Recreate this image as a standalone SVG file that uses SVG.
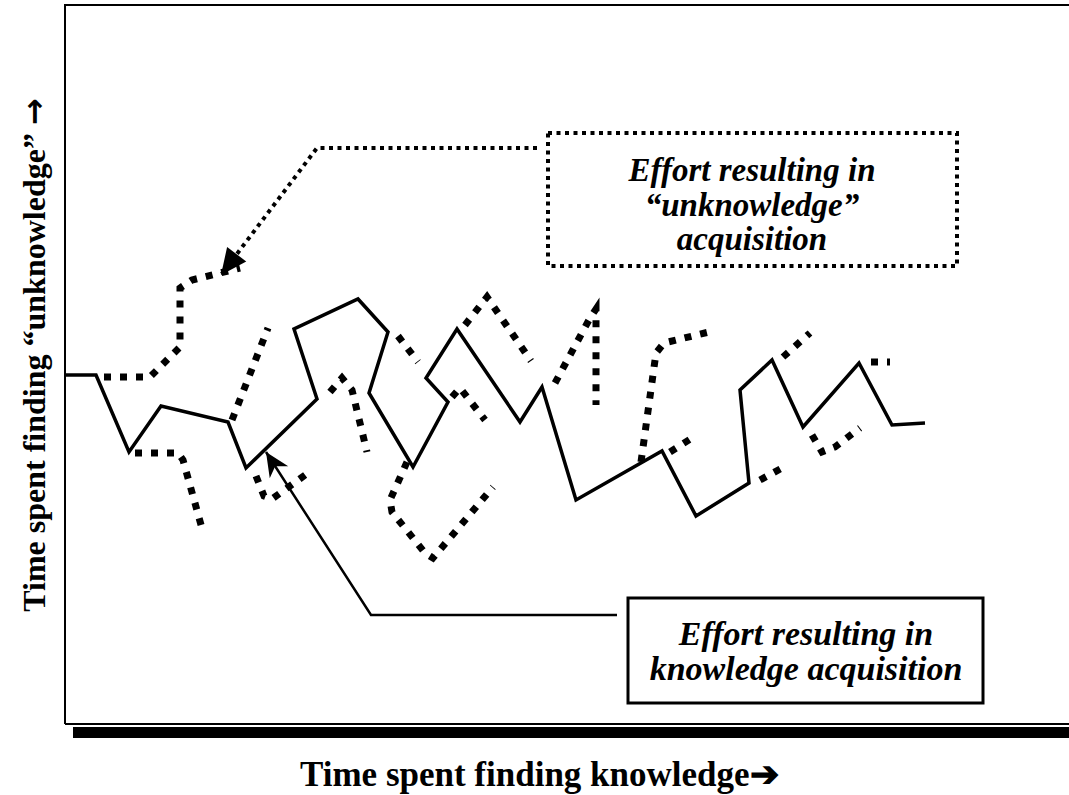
<svg xmlns="http://www.w3.org/2000/svg" width="1069" height="795" viewBox="0 0 1069 795">
<style>
  .frame { fill: none; stroke: #000; stroke-width: 2; }
  .know { fill: none; stroke: #000; stroke-width: 3.5; stroke-linejoin: miter; }
  .unk { fill: none; stroke: #000; stroke-width: 7; stroke-dasharray: 7 9; stroke-linejoin: miter; }
  .dots { fill: none; stroke: #000; stroke-width: 4; stroke-dasharray: 4 4.5; }
  .solidc { fill: none; stroke: #000; stroke-width: 2.5; }
  .lbl { font-family: "Liberation Serif", "Times New Roman", serif; font-weight: bold; fill: #000; }
  .box-t { font-family: "Liberation Serif", "Times New Roman", serif; font-weight: bold; font-style: italic; fill: #000; text-anchor: middle; }
</style>
<defs>
  <marker id="headTri" viewBox="-28 -14 30 28" refX="0" refY="0" markerWidth="30" markerHeight="28" markerUnits="userSpaceOnUse" orient="auto">
    <path d="M0,0 L-26,-12 L-26,12 Z" fill="#000"/>
  </marker>
  <marker id="headBarb" viewBox="-28 -14 30 28" refX="0" refY="0" markerWidth="30" markerHeight="28" markerUnits="userSpaceOnUse" orient="auto">
    <path d="M0,0 L-24,-11 L-17,0 L-24,11 Z" fill="#000"/>
  </marker>
</defs>
<rect x="0" y="0" width="1069" height="795" fill="#fff"/>

<g id="frame">
  <path class="frame" d="M65,724 L65,5 L1069,5"/>
  <path class="frame" d="M65,724 L1069,724"/>
  <rect x="73" y="727" width="996" height="11" fill="#000"/>
</g>

<g id="axis-y-label">
  <text class="lbl" font-size="32" text-anchor="middle" transform="translate(45,355) rotate(-90)">Time spent finding “unknowledge” <tspan font-family="DejaVu Sans, sans-serif" font-weight="bold">→</tspan></text>
</g>
<g id="axis-x-label">
  <text class="lbl" font-size="35" x="300" y="786">Time spent finding knowledge➔</text>
</g>

<g id="chart-knowledge">
  <path class="know" d="M65,375 L96,375 L129,452 L161,406 L228,422 L246,468 L317,399 L294,329 L358,299 L388,332 L369,393 L413,467 L448,402 L426,378 L457,329 L520,422 L542,387 L576,500 L662,451 L696,516 L749,483 L740,390 L772,360 L803,427 L859,363 L892,425 L925,423"/>
</g>

<g id="chart-unknowledge">
  <path class="unk" d="M104,377 L150,377 L180,347 L180,288 L192,280 L240,268"/>
  <path class="unk" d="M135,453 L178,453 L183,460 L203,532"/>
  <path class="unk" d="M232,420 L268,328"/>
  <path class="unk" d="M256,476 L264,496 L272,499 L312,470"/>
  <path class="unk" d="M330,392 L342,378 L352,390 L367,452"/>
  <path class="unk" d="M398,336 L418,362"/>
  <path class="unk" d="M407,462 L390,500 L392,512 L425,553 L433,558 L493,487"/>
  <path class="unk" d="M452,397 L460,388 L485,420"/>
  <path class="unk" d="M465,325 L487,297 L531,361"/>
  <path class="unk" d="M555,383 L590,318 L596,309 L596,405"/>
  <path class="unk" d="M641,462 L656,353 L664,343 L713,331"/>
  <path class="unk" d="M670,452 L692,438"/>
  <path class="unk" d="M760,480 L782,468"/>
  <path class="unk" d="M783,357 L810,333"/>
  <path class="unk" d="M812,435 L822,452 L835,447 L860,428"/>
  <path class="unk" d="M871,362 L890,362"/>
</g>

<g id="connectors">
  <path class="dots" d="M537,148 L317,148 L221,275" marker-end="url(#headTri)"/>
  <path class="solidc" d="M617,615 L371,615 L266,452" marker-end="url(#headBarb)"/>
</g>

<g id="box-unknowledge">
  <rect class="dots" x="548" y="133" width="409" height="133"/>
  <text class="box-t" font-size="33" x="752" y="181">Effort resulting in</text>
  <text class="box-t" font-size="33" x="752" y="216">“unknowledge”</text>
  <text class="box-t" font-size="33" x="752" y="250">acquisition</text>
</g>

<g id="box-knowledge">
  <rect x="628" y="598" width="355" height="105" fill="#fff" stroke="#000" stroke-width="3"/>
  <text class="box-t" font-size="34" x="806" y="645">Effort resulting in</text>
  <text class="box-t" font-size="34" x="806" y="680">knowledge acquisition</text>
</g>
</svg>
